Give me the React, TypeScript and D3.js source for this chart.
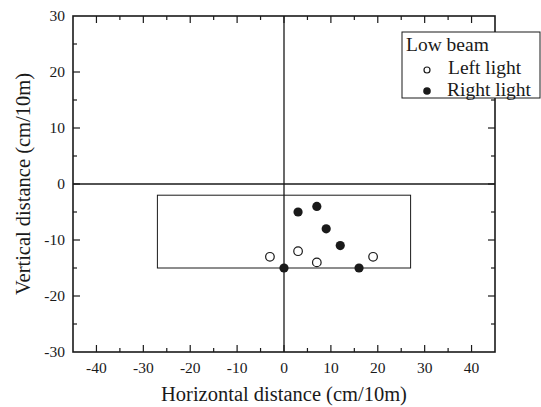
import React from "react";
import * as d3 from "d3";

const leftX = [-3, 3, 7, 19];
const leftY = [-13, -12, -14, -13];
const rightX = [3, 7, 9, 12, 0, 16];
const rightY = [-5, -4, -8, -11, -15, -15];
const xTicks = [-40, -30, -20, -10, 0, 10, 20, 30, 40];
const yTicks = [-30, -20, -10, 0, 10, 20, 30];
const zoneX = [-27, 27];
const zoneY = [-15, -2];
const legendLabels = ["Low beam", "Left light", "Right light"];

const W = 541, H = 407;
const M = { l: 73, r: 495, t: 16, b: 352 };

export default function App() {
  const x = d3.scaleLinear().domain([-45, 45]).range([M.l, M.r]);
  const y = d3.scaleLinear().domain([-30, 30]).range([M.b, M.t]);
  const ink = "#1a1a1a";
  const font = "'Liberation Serif', 'Times New Roman', serif";
  const xMinor = d3.range(-45, 46, 5);
  const yMinor = d3.range(-30, 31, 5);
  return (
    <svg width={W} height={H} style={{ position: "absolute", left: 0, top: 0, background: "#fff" }} fontFamily={font}>
      <rect x={0} y={0} width={W} height={H} fill="#fff" />
      {/* zero lines */}
      <line x1={M.l} x2={M.r} y1={y(0)} y2={y(0)} stroke={ink} strokeWidth={1.6} />
      <line x1={x(0)} x2={x(0)} y1={M.t} y2={M.b} stroke={ink} strokeWidth={1.3} />
      {/* ticks */}
      {xMinor.map((v) => {
        const major = v % 10 === 0;
        const len = major ? 7 : 4;
        if (v <= -45 || v >= 45) return null;
        return (
          <g key={"xt" + v}>
            <line x1={x(v)} x2={x(v)} y1={M.b} y2={M.b - len} stroke={ink} strokeWidth={1.2} />
            <line x1={x(v)} x2={x(v)} y1={M.t} y2={M.t + len} stroke={ink} strokeWidth={1.2} />
          </g>
        );
      })}
      {yMinor.map((v) => {
        const major = v % 10 === 0;
        const len = major ? 7 : 4;
        if (v <= -30 || v >= 30) return null;
        return (
          <g key={"yt" + v}>
            <line x1={M.l} x2={M.l + len} y1={y(v)} y2={y(v)} stroke={ink} strokeWidth={1.2} />
            <line x1={M.r} x2={M.r - len} y1={y(v)} y2={y(v)} stroke={ink} strokeWidth={1.2} />
          </g>
        );
      })}
      {/* frame */}
      <rect x={M.l} y={M.t} width={M.r - M.l} height={M.b - M.t} fill="none" stroke={ink} strokeWidth={1.6} />
      {/* tick labels */}
      {xTicks.map((v) => (
        <text key={"xl" + v} x={x(v)} y={M.b + 21} textAnchor="middle" fontSize={15.5} fill={ink}>{v}</text>
      ))}
      {yTicks.map((v) => (
        <text key={"yl" + v} x={M.l - 8} y={y(v) + 5} textAnchor="end" fontSize={15.5} fill={ink}>{v}</text>
      ))}
      {/* zone rectangle */}
      <rect x={x(zoneX[0])} y={y(zoneY[1])} width={x(zoneX[1]) - x(zoneX[0])} height={y(zoneY[0]) - y(zoneY[1])} fill="none" stroke={ink} strokeWidth={1} />
      {/* points */}
      {leftX.map((v, i) => (
        <circle key={"l" + i} cx={x(v)} cy={y(leftY[i])} r={4.3} fill="#fff" stroke={ink} strokeWidth={1.2} />
      ))}
      {rightX.map((v, i) => (
        <circle key={"r" + i} cx={x(v)} cy={y(rightY[i])} r={4.6} fill={ink} />
      ))}
      {/* legend */}
      <rect x={402} y={32} width={138} height={66} fill="#fff" stroke={ink} strokeWidth={1} />
      <text x={406} y={51} fontSize={19.5} fill={ink}>{legendLabels[0]}</text>
      <circle cx={427} cy={70} r={3} fill="#fff" stroke={ink} strokeWidth={1.2} />
      <text x={448} y={74} fontSize={19.5} fill={ink}>{legendLabels[1]}</text>
      <circle cx={427} cy={91} r={3.8} fill={ink} />
      <text x={447} y={96} fontSize={19.5} fill={ink}>{legendLabels[2]}</text>
      {/* axis titles */}
      <text x={x(0)} y={401} textAnchor="middle" fontSize={20.5} fill={ink}>Horizontal distance (cm/10m)</text>
      <text transform={`translate(30, ${y(0)}) rotate(-90)`} textAnchor="middle" fontSize={20.5} fill={ink}>Vertical distance (cm/10m)</text>
    </svg>
  );
}
